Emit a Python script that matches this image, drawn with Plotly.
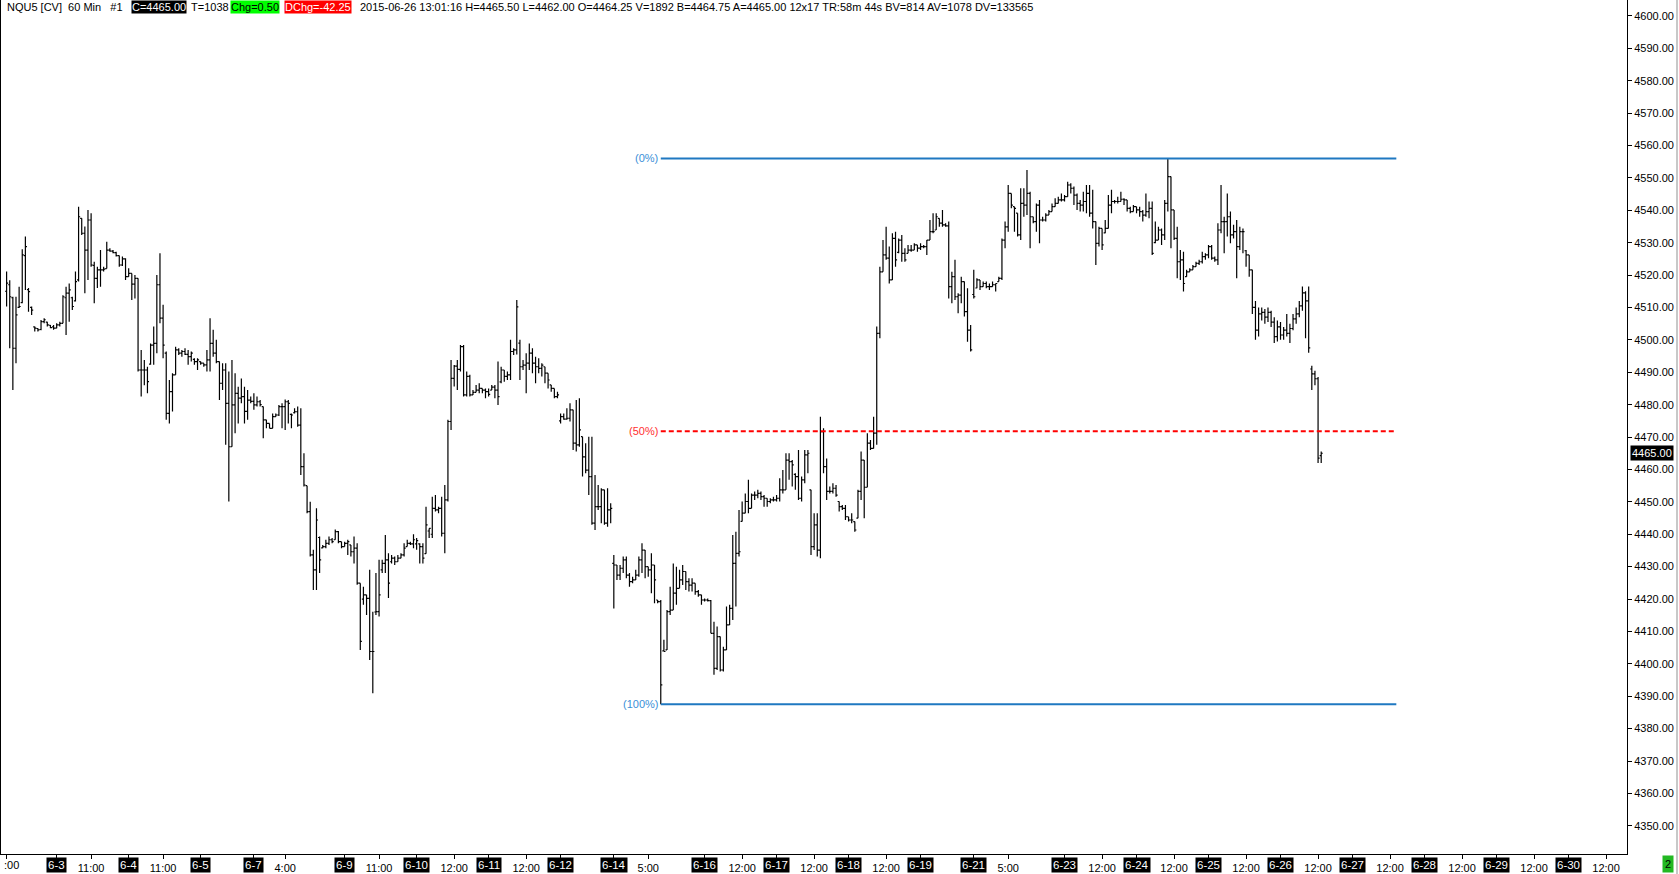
import plotly.graph_objects as go

# ---------------- data (60-min bars, NQU5) ----------------
opens = [
4515.0,4517.0,4513.0,4497.4,4510.0,4511.5,4526.0,4515.5,4510.0,4504.0,
4503.5,4503.2,4505.6,4505.5,4504.5,4504.0,4503.6,4504.6,4505.1,4513.0,
4514.4,4513.0,4512.0,4518.5,4537.5,4532.9,4527.7,4537.0,4523.0,4519.0,
4521.6,4521.6,4522.0,4527.7,4527.4,4526.9,4526.0,4523.1,4525.0,4519.5,
4520.5,4517.2,4519.0,4490.7,4490.7,4490.7,4492.5,4498.4,4498.9,4517.0,
4506.7,4495.9,4477.3,4484.0,4489.2,4496.9,4495.9,4496.4,4495.5,4494.8,
4494.0,4493.3,4493.3,4492.8,4492.3,4493.8,4498.9,4495.9,4493.3,4486.6,
4490.7,4480.4,4467.0,4479.9,4483.5,4482.0,4482.5,4477.9,4481.4,4481.0,
4479.9,4480.9,4479.4,4475.3,4474.2,4472.7,4476.3,4476.8,4479.4,4479.4,
4480.9,4477.0,4477.5,4477.8,4473.7,4460.9,4455.0,4447.0,4433.6,4429.0,
4439.0,4435.8,4436.2,4437.2,4438.3,4438.3,4440.8,4437.7,4436.2,4437.2,
4436.7,4434.6,4435.7,4424.9,4420.0,4421.3,4420.2,4403.8,4416.0,4416.1,
4429.0,4431.0,4432.1,4431.5,4432.6,4431.5,4432.6,4433.6,4436.2,4437.2,
4437.0,4437.0,4437.0,4436.2,4434.0,4441.0,4440.0,4448.0,4447.5,4448.0,
4440.3,4450.6,4474.8,4488.1,4491.9,4490.9,4497.9,4483.0,4488.7,4483.0,
4483.8,4484.5,4485.0,4484.5,4484.0,4484.5,4485.4,4484.5,4487.0,4490.7,
4488.7,4489.2,4496.4,4496.9,4499.0,4491.7,4492.2,4492.8,4495.9,4492.8,
4491.7,4491.2,4491.7,4489.7,4486.1,4485.0,4482.5,4475.0,4476.3,4475.5,
4475.8,4478.4,4468.1,4467.6,4470.1,4463.9,4459.8,4457.8,4443.4,4448.5,
4448.5,4453.7,4443.4,4447.5,4431.0,4430.5,4427.4,4429.5,4432.1,4427.4,
4425.4,4425.9,4427.4,4432.1,4435.1,4430.0,4429.0,4430.5,4419.7,4419.2,
4404.0,4404.3,4416.1,4416.6,4421.8,4423.3,4425.9,4428.5,4425.4,4424.3,
4424.9,4422.3,4421.3,4419.7,4419.7,4419.5,4409.4,4398.6,4408.4,4398.1,
4404.3,4412.0,4417.1,4431.0,4434.1,4444.0,4446.5,4450.1,4448.0,4452.1,
4452.1,4452.6,4451.6,4451.1,4450.1,4450.6,4450.6,4451.1,4453.7,4453.7,
4462.9,4462.4,4458.5,4457.8,4451.1,4456.8,4464.5,4453.7,4436.2,4442.9,
4435.1,4471.7,4460.9,4453.2,4453.2,4454.2,4450.1,4448.5,4448.0,4445.4,
4444.4,4443.9,4445.0,4453.2,4462.9,4454.5,4468.1,4466.5,4471.2,4502.0,
4521.0,4526.2,4525.2,4518.5,4531.3,4527.0,4530.8,4526.7,4526.7,4527.7,
4527.7,4529.3,4528.3,4528.8,4528.8,4530.8,4533.4,4533.9,4537.5,4536.0,
4535.5,4535.2,4516.4,4519.5,4513.3,4513.8,4518.0,4508.7,4503.0,4514.0,
4516.0,4518.5,4516.4,4517.4,4516.4,4516.4,4517.0,4518.0,4519.0,4530.8,
4534.9,4545.2,4541.1,4539.1,4532.4,4542.1,4541.6,4545.2,4538.0,4536.5,
4541.6,4537.0,4537.0,4538.5,4539.6,4541.1,4542.1,4543.2,4543.2,4544.2,
4547.8,4546.8,4544.7,4542.1,4541.6,4542.7,4545.2,4539.1,4536.5,4529.8,
4534.4,4533.0,4534.4,4541.6,4542.7,4542.7,4542.7,4543.4,4543.2,4540.6,
4539.6,4541.1,4540.1,4539.6,4538.5,4539.6,4540.6,4530.0,4530.8,4533.9,
4532.4,4542.1,4550.4,4540.1,4531.3,4524.1,4524.7,4519.5,4521.0,4521.6,
4522.6,4523.6,4524.1,4525.7,4526.2,4528.8,4525.2,4524.7,4533.9,4536.5,
4536.5,4538.0,4532.4,4533.4,4528.8,4533.4,4527.5,4526.2,4521.6,4510.0,
4503.0,4508.0,4508.5,4507.0,4508.5,4505.5,4501.0,4504.0,4501.5,4503.0,
4502.0,4503.5,4506.5,4508.0,4510.5,4514.5,4512.0,4491.0,4489.5,4488.0,
4464.25]

highs = [
4521.1,4518.4,4513.3,4513.3,4516.4,4528.0,4531.9,4516.0,4510.3,4504.1,
4503.6,4506.1,4506.7,4505.6,4504.6,4504.6,4505.1,4505.6,4513.8,4516.4,
4517.4,4513.3,4521.1,4541.1,4537.5,4535.0,4540.1,4539.1,4524.1,4522.6,
4527.7,4522.6,4530.3,4528.3,4527.7,4527.2,4526.0,4525.7,4525.2,4522.1,
4520.5,4520.0,4519.0,4496.9,4493.8,4491.7,4498.9,4504.1,4520.0,4526.7,
4510.8,4496.4,4487.6,4489.7,4497.9,4497.4,4496.9,4497.4,4496.9,4496.4,
4494.3,4494.3,4493.3,4492.8,4496.9,4506.7,4503.1,4500.0,4493.3,4492.8,
4492.8,4490.2,4493.8,4489.7,4485.5,4488.1,4485.5,4484.5,4482.5,4483.5,
4482.5,4481.4,4479.4,4475.3,4474.2,4477.3,4477.3,4479.9,4480.4,4481.6,
4481.4,4477.3,4478.9,4479.4,4478.9,4465.0,4455.0,4450.0,4435.2,4448.0,
4439.3,4436.7,4438.3,4439.3,4438.8,4441.5,4441.0,4437.7,4437.7,4438.3,
4436.7,4439.3,4437.2,4424.9,4423.8,4421.3,4429.0,4416.1,4428.0,4432.1,
4432.1,4439.8,4434.1,4433.6,4433.1,4433.6,4434.1,4437.2,4438.3,4437.7,
4440.0,4438.8,4437.2,4437.2,4448.5,4441.8,4451.6,4452.1,4448.5,4451.6,
4455.2,4475.3,4493.8,4492.2,4493.8,4498.4,4498.4,4490.2,4489.2,4484.5,
4486.1,4486.6,4485.0,4485.0,4485.0,4486.1,4486.1,4493.3,4491.7,4490.7,
4490.2,4500.0,4497.4,4512.3,4500.0,4493.8,4495.9,4498.9,4497.4,4494.8,
4494.3,4492.8,4491.7,4489.7,4486.1,4485.0,4484.0,4477.3,4477.3,4478.9,
4480.4,4478.4,4481.4,4482.0,4470.1,4468.1,4470.1,4470.1,4458.3,4455.2,
4454.2,4453.7,4454.2,4449.6,4433.6,4430.5,4430.5,4433.1,4433.1,4428.0,
4426.9,4429.0,4433.1,4437.2,4435.1,4430.0,4434.1,4430.5,4419.7,4419.7,
4407.4,4416.6,4423.8,4431.0,4430.0,4429.0,4430.5,4428.5,4426.4,4426.4,
4424.9,4422.8,4421.3,4420.2,4420.2,4419.7,4413.0,4411.5,4408.4,4405.3,
4417.7,4418.2,4439.8,4440.8,4447.5,4450.1,4452.6,4456.8,4452.6,4453.2,
4453.7,4453.2,4452.1,4451.1,4451.1,4451.6,4452.1,4457.3,4459.8,4465.0,
4465.0,4462.9,4458.8,4466.0,4457.8,4466.0,4466.0,4453.7,4446.5,4446.5,
4476.3,4472.7,4463.4,4454.7,4455.7,4455.2,4450.1,4449.0,4449.0,4445.4,
4446.5,4443.9,4453.7,4465.5,4462.9,4471.2,4469.1,4476.3,4504.1,4522.6,
4530.8,4534.9,4528.8,4532.9,4533.4,4531.3,4532.4,4528.3,4529.3,4529.3,
4529.8,4529.3,4529.8,4529.3,4530.8,4537.0,4539.1,4539.1,4537.5,4540.1,
4536.0,4536.5,4521.0,4524.7,4514.4,4519.5,4518.0,4515.9,4504.6,4521.6,
4519.0,4518.5,4518.0,4518.0,4517.4,4518.0,4517.4,4519.5,4531.3,4536.5,
4547.8,4545.2,4541.1,4539.1,4546.8,4546.8,4552.4,4545.7,4538.0,4542.1,
4543.2,4538.0,4539.1,4540.1,4542.1,4543.7,4544.2,4545.2,4544.7,4548.8,
4548.3,4547.3,4545.2,4543.2,4545.7,4547.8,4547.8,4546.3,4536.5,4534.9,
4534.4,4537.0,4544.7,4546.3,4543.2,4544.2,4545.7,4543.7,4543.2,4541.1,
4541.6,4541.1,4541.1,4540.1,4545.2,4542.7,4542.7,4536.5,4534.9,4534.4,
4543.2,4556.0,4550.4,4540.1,4534.9,4527.7,4527.2,4521.6,4522.1,4523.1,
4524.1,4524.7,4527.2,4526.7,4529.3,4529.3,4525.7,4536.0,4547.8,4538.0,
4545.2,4539.6,4535.5,4537.0,4534.9,4534.4,4527.7,4526.2,4521.6,4512.0,
4510.0,4510.0,4509.5,4510.0,4509.0,4507.0,4506.0,4505.5,4504.0,4508.0,
4505.0,4508.0,4510.0,4512.0,4516.5,4515.0,4516.5,4492.0,4490.5,4488.5,
4465.5]

lows = [
4510.3,4497.4,4484.5,4492.8,4509.8,4511.3,4515.4,4508.7,4507.7,4502.6,
4502.6,4503.0,4505.1,4504.1,4503.6,4503.1,4503.6,4504.1,4505.1,4501.5,
4505.6,4509.2,4511.8,4518.0,4532.4,4514.4,4518.5,4522.6,4511.3,4516.0,
4516.4,4521.1,4522.0,4527.2,4526.7,4525.7,4522.6,4522.8,4518.5,4519.5,
4512.3,4512.8,4490.2,4482.5,4486.0,4483.5,4492.3,4492.3,4495.9,4505.1,
4494.3,4475.3,4474.2,4477.9,4489.2,4495.3,4494.8,4495.3,4492.3,4493.3,
4492.3,4490.7,4492.3,4491.7,4490.2,4490.2,4494.8,4492.8,4481.4,4484.5,
4467.6,4450.1,4467.0,4471.2,4474.2,4480.4,4474.2,4475.3,4480.4,4478.4,
4479.4,4479.4,4469.6,4472.7,4472.7,4472.7,4476.3,4476.5,4472.7,4472.2,
4474.2,4472.7,4477.3,4473.2,4458.3,4454.7,4446.5,4433.1,4422.8,4422.8,
4428.0,4435.7,4435.7,4436.7,4437.2,4438.3,4437.2,4435.7,4436.2,4433.6,
4433.1,4431.0,4424.4,4404.3,4418.2,4415.1,4401.2,4390.9,4415.1,4414.6,
4428.0,4428.0,4420.3,4431.0,4430.5,4431.5,4432.6,4433.1,4436.2,4436.7,
4435.7,4435.2,4431.0,4431.0,4434.0,4438.8,4438.8,4447.0,4446.5,4439.3,
4434.1,4450.1,4472.2,4485.6,4484.5,4490.2,4482.5,4482.5,4482.5,4483.0,
4483.8,4483.5,4483.5,4482.0,4482.5,4484.5,4482.0,4479.9,4486.6,4487.1,
4487.6,4487.6,4495.3,4495.5,4487.6,4490.7,4483.5,4490.7,4489.7,4486.6,
4489.7,4488.7,4486.6,4485.0,4484.0,4482.0,4482.0,4474.2,4475.3,4475.3,
4474.8,4466.0,4465.5,4467.0,4457.8,4458.8,4452.1,4442.9,4441.3,4447.5,
4443.4,4442.9,4442.3,4443.4,4417.1,4425.9,4425.9,4428.0,4426.4,4423.8,
4424.9,4425.9,4426.9,4428.0,4426.4,4426.9,4421.8,4418.7,4418.7,4387.5,
4403.8,4404.3,4415.1,4416.6,4418.2,4423.3,4424.3,4422.8,4422.3,4422.3,
4421.3,4420.7,4418.2,4419.2,4419.2,4409.4,4396.6,4398.1,4397.6,4397.6,
4404.3,4412.0,4413.5,4417.7,4433.1,4443.9,4446.5,4446.5,4448.0,4450.6,
4451.1,4450.6,4448.5,4448.5,4449.6,4450.1,4450.1,4450.1,4452.6,4453.7,
4456.8,4454.7,4453.7,4450.6,4450.1,4455.7,4458.8,4433.6,4435.1,4433.1,
4432.6,4458.8,4450.6,4452.6,4452.6,4451.6,4447.0,4447.5,4444.4,4443.9,
4443.4,4440.8,4444.9,4450.6,4444.9,4454.5,4466.0,4466.5,4467.6,4500.5,
4521.0,4524.7,4517.4,4518.5,4522.6,4526.7,4524.1,4524.1,4526.7,4527.2,
4527.7,4527.2,4527.7,4528.3,4526.2,4530.8,4532.9,4533.9,4534.9,4534.9,
4534.9,4512.8,4511.3,4512.3,4508.2,4511.3,4507.2,4499.4,4496.4,4512.8,
4515.9,4515.4,4516.4,4515.9,4515.4,4516.4,4514.9,4518.0,4518.5,4528.3,
4533.4,4540.6,4533.4,4531.9,4530.8,4538.0,4538.5,4528.3,4536.0,4533.4,
4529.8,4536.5,4536.5,4538.5,4539.6,4541.1,4542.1,4542.7,4542.7,4544.2,
4545.2,4541.6,4540.1,4539.6,4539.6,4539.1,4538.0,4534.4,4523.1,4528.8,
4527.7,4532.9,4534.4,4539.1,4542.1,4542.1,4542.7,4541.6,4539.6,4539.1,
4539.6,4539.1,4538.0,4536.5,4538.0,4537.5,4526.2,4529.8,4530.8,4529.3,
4530.8,4539.6,4528.3,4530.8,4519.0,4518.5,4514.9,4519.5,4521.0,4521.6,
4522.6,4523.1,4523.6,4524.7,4525.2,4524.7,4524.1,4523.1,4532.9,4526.7,
4531.9,4529.8,4531.3,4519.0,4527.7,4526.7,4522.6,4519.5,4508.0,4500.0,
4501.0,4506.0,4505.0,4505.5,4504.0,4499.0,4499.5,4500.0,4500.0,4501.0,
4499.0,4503.0,4505.0,4507.0,4509.0,4500.5,4496.0,4484.5,4486.0,4462.0,
4462.0]

closes = [
4517.5,4513.3,4497.4,4507.7,4510.3,4526.2,4528.8,4514.9,4509.2,4503.6,
4503.1,4505.6,4506.2,4504.6,4503.8,4503.6,4504.6,4505.1,4513.3,4514.4,
4515.4,4510.3,4518.0,4538.0,4532.9,4527.7,4537.0,4523.1,4519.0,4521.6,
4521.6,4521.8,4527.7,4527.4,4526.9,4526.0,4523.1,4525.0,4519.5,4520.5,
4517.2,4519.0,4490.7,4490.7,4490.7,4487.1,4498.4,4498.9,4517.0,4506.7,
4498.4,4477.3,4484.0,4489.2,4496.9,4495.9,4496.4,4495.5,4494.8,4495.9,
4493.3,4493.8,4492.8,4492.3,4493.8,4498.9,4495.9,4493.3,4486.6,4490.7,
4480.4,4467.0,4479.9,4483.5,4482.0,4482.5,4477.9,4481.4,4481.0,4479.9,
4480.9,4480.0,4475.3,4474.2,4472.7,4476.3,4476.8,4479.4,4479.4,4480.9,
4480.4,4476.8,4477.8,4473.7,4460.9,4455.2,4447.0,4433.6,4429.0,4444.4,
4432.1,4436.2,4437.2,4438.3,4437.7,4440.8,4437.7,4436.2,4437.2,4437.7,
4434.6,4435.7,4424.9,4406.9,4421.3,4420.2,4403.8,4403.8,4416.1,4421.3,
4431.0,4432.1,4424.9,4432.6,4431.5,4432.6,4433.6,4435.7,4437.2,4437.0,
4438.3,4438.0,4436.2,4432.6,4442.9,4441.8,4448.0,4447.5,4448.0,4440.3,
4450.6,4474.8,4488.1,4491.9,4490.9,4497.9,4483.0,4488.7,4483.0,4483.8,
4484.5,4485.0,4484.5,4484.0,4483.2,4485.4,4484.5,4482.5,4490.7,4488.7,
4489.2,4496.4,4496.9,4510.2,4491.7,4492.2,4492.8,4495.9,4492.8,4491.7,
4491.2,4492.2,4489.7,4487.6,4485.0,4482.5,4483.0,4476.3,4475.5,4475.8,
4478.4,4468.1,4467.6,4472.2,4463.9,4459.8,4457.8,4443.4,4448.5,4448.5,
4453.7,4443.4,4447.5,4448.0,4430.5,4427.4,4429.5,4432.1,4427.4,4425.4,
4425.9,4427.4,4432.1,4435.1,4430.0,4429.0,4430.5,4425.9,4419.2,4393.5,
4403.8,4416.1,4416.6,4421.8,4423.3,4425.9,4428.5,4425.4,4424.3,4424.9,
4422.3,4421.3,4419.7,4419.7,4419.5,4409.4,4398.6,4408.4,4398.1,4404.3,
4412.0,4417.1,4431.0,4434.1,4434.6,4446.5,4450.1,4448.0,4452.1,4452.1,
4452.6,4451.6,4451.1,4450.1,4450.6,4450.6,4451.1,4453.7,4453.7,4462.9,
4462.4,4461.4,4457.8,4451.1,4456.8,4464.5,4465.0,4436.2,4442.9,4435.1,
4471.7,4460.9,4453.2,4453.2,4454.2,4452.1,4448.5,4448.0,4445.4,4444.4,
4444.4,4441.3,4453.2,4462.9,4454.5,4468.1,4466.5,4471.2,4502.0,4521.0,
4526.2,4525.2,4518.5,4531.3,4524.7,4530.8,4526.7,4524.7,4527.7,4527.7,
4529.3,4528.3,4528.8,4528.8,4530.8,4533.4,4533.4,4538.0,4536.0,4535.5,
4535.2,4516.4,4519.5,4513.3,4513.8,4518.0,4508.7,4503.0,4496.9,4513.3,
4518.5,4516.4,4517.4,4516.4,4516.4,4517.0,4517.4,4519.0,4530.8,4534.9,
4545.2,4541.6,4540.6,4532.4,4542.1,4541.6,4545.2,4538.0,4536.5,4541.6,
4537.0,4537.0,4538.5,4539.6,4541.1,4542.1,4543.2,4543.2,4544.2,4547.8,
4546.8,4544.7,4542.1,4541.6,4542.7,4545.2,4539.1,4536.5,4529.8,4534.4,
4529.3,4534.4,4541.6,4542.7,4542.7,4542.7,4543.4,4543.2,4540.6,4539.6,
4541.1,4540.1,4539.6,4538.5,4539.6,4540.6,4526.7,4530.8,4533.9,4532.4,
4542.1,4550.4,4540.1,4531.3,4524.1,4524.7,4517.4,4521.0,4521.6,4522.6,
4523.6,4524.1,4525.7,4526.2,4528.8,4525.2,4524.7,4533.9,4536.5,4536.5,
4538.0,4532.4,4533.4,4528.8,4533.4,4533.4,4526.2,4521.6,4510.0,4503.0,
4508.0,4508.5,4507.0,4508.5,4505.5,4501.0,4504.0,4501.5,4503.0,4502.0,
4503.5,4506.5,4508.0,4510.5,4514.5,4512.0,4497.5,4489.5,4488.0,4463.5,
4465.0]

# x-axis: bar-index positions of session-date labels and hour labels
date_labels = ["6-3", "6-4", "6-5", "6-7", "6-9", "6-10", "6-11", "6-12", "6-14", "6-16", "6-17",
               "6-18", "6-19", "6-21", "6-23", "6-24", "6-25", "6-26", "6-27", "6-28", "6-29", "6-30"]
date_pos = [16, 39, 62, 79, 108, 131, 154, 177, 194, 223, 246, 269, 292, 309, 338, 361, 384, 407, 430, 453, 476, 499]
time_labels = [":00", "11:00", "11:00", "4:00", "11:00", "12:00", "12:00", "5:00", "12:00", "12:00",
               "12:00", "5:00", "12:00", "12:00", "12:00", "12:00", "12:00", "12:00", "12:00", "12:00"]
time_pos = [0, 27, 50, 89, 119, 143, 166, 205, 235, 258, 281, 320, 350, 373, 396, 419, 442, 465, 488, 511]

price_ticks = [4350, 4360, 4370, 4380, 4390, 4400, 4410, 4420, 4430, 4440, 4450, 4460, 4470,
               4480, 4490, 4500, 4510, 4520, 4530, 4540, 4550, 4560, 4570, 4580, 4590, 4600]

# Fibonacci retracement tool
fib_labels = ["(0%)", "(50%)", "(100%)"]
fib_prices = [4556.0, 4471.75, 4387.5]
fib_x = [209, 444]

last_price = 4465.00

header_pieces = [
    ("NQU5 [CV]\u00a0\u00a060 Min\u00a0\u00a0\u00a0#1", None, "#000000"),
    ("C=4465.00", "#000000", "#ffffff"),
    ("T=1038", None, "#000000"),
    ("Chg=0.50", "#00ff00", "#000000"),
    ("DChg=-42.25", "#ff0000", "#ffffff"),
    ("2015-06-26 13:01:16 H=4465.50 L=4462.00 O=4464.25 V=1892 B=4464.75 A=4465.00 12x17 TR:58m 44s BV=814 AV=1078 DV=133565", None, "#000000"),
]
header_px = [6, 131, 190, 230, 284, 359]

# ---------------- figure ----------------
W, H = 1679, 874
ML, MR, MT, MB = 0, 52, 0, 20
PW = W - ML - MR
PH = H - MT - MB
FONT = "Liberation Sans, Arial, sans-serif"

xs = list(range(len(closes)))

fig = go.Figure()
fig.add_trace(go.Ohlc(
    x=xs, open=opens, high=highs, low=lows, close=closes,
    increasing=dict(line=dict(color="#000000", width=1.2)),
    decreasing=dict(line=dict(color="#000000", width=1.2)),
    tickwidth=0.5, hoverinfo="skip", showlegend=False,
))

fib_colors = ["#1f78c1", "#ff0000", "#1f78c1"]
fib_dash = ["solid", "5px,3px", "solid"]
fib_text_colors = ["#3a8fd8", "#ff3030", "#3a8fd8"]
annotations = []
for lab, p, col, dsh, tcol in zip(fib_labels, fib_prices, fib_colors, fib_dash, fib_text_colors):
    fig.add_trace(go.Scatter(x=fib_x, y=[p, p], mode="lines",
                             line=dict(color=col, width=2, dash=dsh),
                             hoverinfo="skip", showlegend=False))
    annotations.append(dict(x=fib_x[0], y=p, xref="x", yref="y", text=lab, showarrow=False,
                            xanchor="right", yanchor="middle", xshift=-1,
                            font=dict(family=FONT, size=11, color=tcol)))

for lab, pos in zip(date_labels, date_pos):
    annotations.append(dict(x=pos, y=0, xref="x", yref="paper", text=lab, showarrow=False,
                            xanchor="center", yanchor="top", yshift=-3,
                            bgcolor="#000000", borderpad=1,
                            font=dict(family=FONT, size=11.5, color="#ffffff")))

# first hour label: only its visible tail sits at the left edge, as in the reference
annotations.append(dict(x=2 / PW, y=0, xref="paper", yref="paper", text=time_labels[0],
                        showarrow=False, xanchor="left", yanchor="top", yshift=-3,
                        borderpad=1, font=dict(family=FONT, size=11, color="#000000")))

for (txt, bg, fc), px in zip(header_pieces, header_px):
    a = dict(x=px / PW, y=1, xref="paper", yref="paper", text=txt, showarrow=False,
             xanchor="left", yanchor="top", borderpad=0,
             font=dict(family=FONT, size=11, color=fc))
    if bg:
        a["bgcolor"] = bg
    annotations.append(a)

annotations.append(dict(x=1, y=last_price, xref="paper", yref="y",
                        text="%.2f" % last_price, showarrow=False, xanchor="left",
                        yanchor="middle", xshift=3, bgcolor="#000000", borderpad=1,
                        font=dict(family=FONT, size=11, color="#ffffff")))
annotations.append(dict(x=1668 / PW, y=-10 / PH, xref="paper", yref="paper", text="2",
                        showarrow=False, xanchor="center", yanchor="middle",
                        bgcolor="#22b822", borderpad=2,
                        font=dict(family=FONT, size=11, color="#000000")))

shapes = [
    dict(type="line", xref="paper", yref="paper", x0=0, x1=0, y0=0, y1=1,
         line=dict(color="#000000", width=2)),
    dict(type="line", xref="paper", yref="paper", x0=1677 / PW, x1=1677 / PW,
         y0=-MB / PH, y1=1, line=dict(color="#c8c8c8", width=2)),
]

x_min = -6.6 / 3.13
x_max = (PW - 6.6) / 3.13

fig.update_layout(
    width=W, height=H,
    margin=dict(l=ML, r=MR, t=MT, b=MB, pad=0),
    paper_bgcolor="#ffffff", plot_bgcolor="#ffffff",
    font=dict(family=FONT, size=11, color="#000000"),
    showlegend=False,
    annotations=annotations,
    shapes=shapes,
    xaxis=dict(
        range=[x_min, x_max], rangeslider=dict(visible=False),
        showgrid=False, zeroline=False,
        showline=True, linecolor="#000000", linewidth=1,
        ticks="outside", ticklen=4, tickcolor="#000000",
        tickmode="array",
        tickvals=time_pos + date_pos,
        ticktext=[""] + time_labels[1:] + [""] * len(date_pos),
        tickfont=dict(family=FONT, size=11, color="#000000"),
        fixedrange=True,
    ),
    yaxis=dict(
        side="right", range=[4341.3, 4604.9],
        showgrid=False, zeroline=False,
        showline=True, linecolor="#000000", linewidth=1,
        ticks="outside", ticklen=4, tickcolor="#000000",
        tickmode="array", tickvals=price_ticks,
        ticktext=["%.2f" % v for v in price_ticks],
        tickfont=dict(family=FONT, size=11, color="#000000"),
        fixedrange=True,
    ),
)

fig.write_html(
    "out.html",
    config={"displayModeBar": False},
    post_script="document.body.style.margin='0';document.body.style.overflow='hidden';",
)
